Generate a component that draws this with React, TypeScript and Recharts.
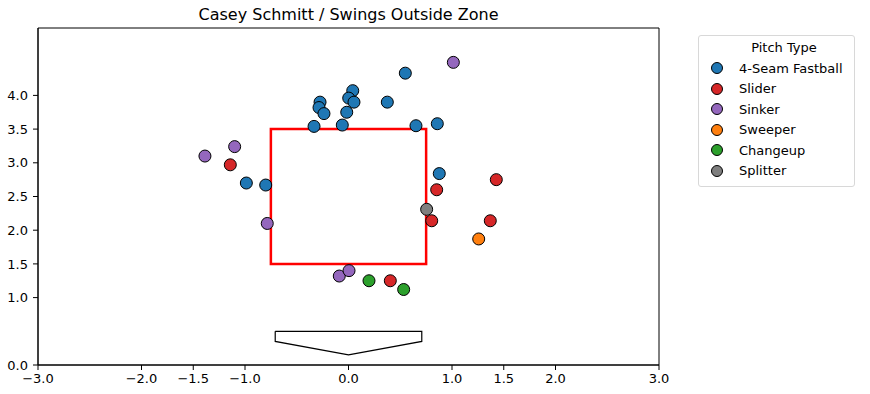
import React from 'react';
import {
  ScatterChart,
  Scatter,
  XAxis,
  YAxis,
  ReferenceArea,
} from 'recharts';

// pitch locations (plate_x, plate_z) in feet
const fastball = [
  [-0.275, 3.9], [-0.285, 3.82], [-0.237, 3.73], [0.041, 4.07], [0.002, 3.96],
  [0.053, 3.9], [-0.017, 3.75], [-0.06, 3.56], [-0.333, 3.54], [0.549, 4.33],
  [0.375, 3.9], [0.652, 3.55], [0.858, 3.58], [0.877, 2.84], [-0.987, 2.7],
  [-0.8, 2.67],
];
const slider = [
  [-1.142, 2.97], [1.428, 2.75], [0.852, 2.6], [0.804, 2.14], [1.37, 2.14], [0.404, 1.25],
];
const sinker = [
  [1.013, 4.49], [-1.387, 3.1], [-1.1, 3.24], [-0.785, 2.1], [-0.089, 1.32], [0.005, 1.4],
];
const sweeper = [[1.258, 1.87]];
const changeup = [[0.198, 1.25], [0.533, 1.12]];
const splitter = [[0.755, 2.31]];

const pitchTypes = ['4-Seam Fastball', 'Slider', 'Sinker', 'Sweeper', 'Changeup', 'Splitter'];
const pitchColors = ['#1f77b4', '#d62728', '#9467bd', '#ff7f0e', '#2ca02c', '#7f7f7f'];
const pitchData = [fastball, slider, sinker, sweeper, changeup, splitter];

// home plate outline, closed
const plate = [
  [-0.708, 0.5], [0.708, 0.5], [0.708, 0.35], [0, 0.15], [-0.708, 0.35], [-0.708, 0.5],
];

const xTicks = [-3, -2, -1.5, -1, 0, 1, 1.5, 2, 3];
const yTicks = [0, 1, 1.5, 2, 2.5, 3, 3.5, 4];

const FONT = 'DejaVu Sans, sans-serif';
const fmt = (v: number) => v.toFixed(1).replace('-', '\u2212');

const toPoints = (arr: number[][]) => arr.map(([x, y]) => ({ x, y }));

const PitchLegend = () => (
  <div
    style={{
      position: 'absolute',
      left: 698,
      top: 35,
      width: 157,
      boxSizing: 'border-box',
      border: '1px solid #d8d8d8',
      borderRadius: 3,
      padding: '2px 6px 5px 11px',
      fontFamily: FONT,
      fontSize: 13,
      color: '#000',
      background: '#fff',
    }}
  >
    <div style={{ textAlign: 'center', paddingLeft: 10, lineHeight: '20px' }}>Pitch Type</div>
    {pitchTypes.map((name, i) => (
      <div key={name} style={{ display: 'flex', alignItems: 'center', height: 20.5 }}>
        <svg width={14} height={14} style={{ marginRight: 15 }}>
          <circle cx={7} cy={7} r={5.5} fill={pitchColors[i]} stroke="#000" strokeWidth={1} />
        </svg>
        <span>{name}</span>
      </div>
    ))}
  </div>
);

export default function App() {
  return (
    <div style={{ position: 'absolute', left: 0, top: 0, width: 870, height: 394, background: '#fff' }}>
      <div
        style={{
          position: 'absolute',
          left: 38,
          width: 621,
          top: 5,
          textAlign: 'center',
          fontFamily: FONT,
          fontSize: 16,
          color: '#000',
        }}
      >
        Casey Schmitt / Swings Outside Zone
      </div>
      <ScatterChart width={870} height={394} margin={{ top: 28, right: 211, bottom: 0, left: 0 }}>
        <XAxis
          type="number"
          dataKey="x"
          domain={[-3, 3]}
          ticks={xTicks}
          tickFormatter={fmt}
          height={29}
          tickSize={5}
          tickMargin={4}
          tick={{ fill: '#000', fontSize: 13, fontFamily: FONT }}
          axisLine={{ stroke: '#000' }}
          tickLine={{ stroke: '#000' }}
          allowDataOverflow
        />
        <YAxis
          type="number"
          dataKey="y"
          domain={[0, 5]}
          ticks={yTicks}
          tickFormatter={fmt}
          width={38}
          tickSize={5}
          tickMargin={5}
          tick={{ fill: '#000', fontSize: 13, fontFamily: FONT }}
          axisLine={{ stroke: '#000' }}
          tickLine={{ stroke: '#000' }}
          allowDataOverflow
        />
        <ReferenceArea x1={-3} x2={3} y1={0} y2={5} fill="none" stroke="#000" strokeWidth={1} />
        <Scatter
          data={toPoints(plate)}
          line={{ stroke: '#000', strokeWidth: 1.2 }}
          shape={() => <g />}
          isAnimationActive={false}
          legendType="none"
        />
        {pitchTypes.map((name, i) => (
          <Scatter
            key={name}
            name={name}
            data={toPoints(pitchData[i])}
            fill={pitchColors[i]}
            isAnimationActive={false}
            shape={(p: any) => (
              <circle cx={p.cx} cy={p.cy} r={6} fill={pitchColors[i]} stroke="#000" strokeWidth={1} />
            )}
          />
        ))}
        <ReferenceArea
          x1={-0.75}
          x2={0.75}
          y1={1.5}
          y2={3.5}
          fill="none"
          stroke="#ff0000"
          strokeWidth={2.5}
        />
      </ScatterChart>
      <PitchLegend />
    </div>
  );
}
